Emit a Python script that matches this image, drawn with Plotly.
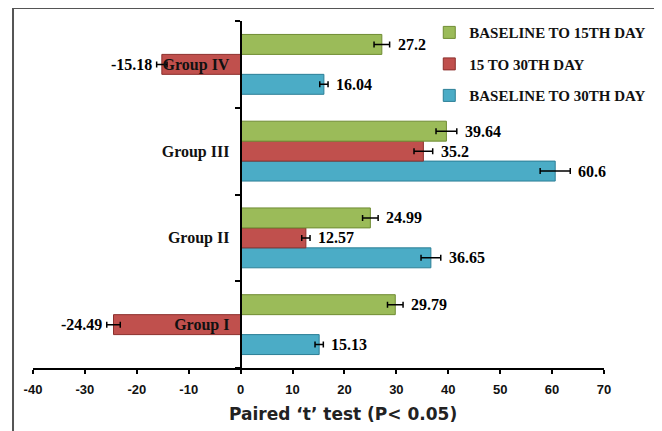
import plotly.graph_objects as go

groups = ["Group I", "Group II", "Group III", "Group IV"]
base15 = [29.79, 24.99, 39.64, 27.2]
base15_err = [1.5, 1.5, 2.0, 1.5]
d15_30 = [-24.49, 12.57, 35.2, -15.18]
d15_30_err = [1.3, 0.8, 1.8, 1.0]
base30 = [15.13, 36.65, 60.6, 16.04]
base30_err = [0.8, 1.9, 2.9, 0.8]
x_ticks = [-40, -30, -20, -10, 0, 10, 20, 30, 40, 50, 60, 70]
x_ticktext = [str(t) for t in x_ticks]

series = [
    ("BASELINE TO 30TH DAY", base30, base30_err, "#4bacc6", "#2c7f96", -20, 3),
    ("15 TO 30TH DAY", d15_30, d15_30_err, "#c0504d", "#8c2f2c", 0, 2),
    ("BASELINE TO 15TH DAY", base15, base15_err, "#9bbb59", "#6f8c33", 20, 1),
]

fig = go.Figure()
annotations = []
serif = "Liberation Serif"
for name, vals, errs, col, dark, ysh, rank in series:
    fig.add_trace(go.Bar(
        y=groups, x=vals, orientation="h", name=name,
        legendgroup=name, legendrank=rank,
        marker=dict(color=col, line=dict(color=dark, width=1)),
        error_x=dict(type="data", array=errs, color="black", thickness=1.5, width=3),
    ))
    for g, v, e in zip(groups, vals, errs):
        neg = v < 0
        annotations.append(dict(
            x=v - e if neg else v + e, y=g, xref="x", yref="y",
            text=f"{v:g}", showarrow=False,
            xanchor="right" if neg else "left", yshift=ysh,
            xshift=-3 if neg else 6,
            font=dict(family=serif, size=16, color="black", weight="bold"),
        ))

annotations.append(dict(
    x=0.543, y=-0.133, xref="paper", yref="paper", showarrow=False,
    xanchor="center", yanchor="middle",
    text="Paired \u2018t\u2019 test (P< 0.05)",
    font=dict(family="DejaVu Sans", size=17, color="#222", weight="bold"),
))

fig.update_layout(
    width=654, height=423,
    margin=dict(l=25, r=58, t=13, b=63, autoexpand=False),
    paper_bgcolor="white", plot_bgcolor="white",
    barmode="group", bargap=0.31, bargroupgap=0,
    showlegend=True,
    legend=dict(
        x=0.694, y=1.014, xanchor="left", yanchor="top",
        traceorder="grouped", tracegroupgap=9,
        font=dict(family=serif, size=15, color="#111", weight="bold"),
        bgcolor="rgba(0,0,0,0)",
        itemwidth=30,
    ),
    xaxis=dict(
        range=[-40, 70], tickvals=x_ticks, ticktext=x_ticktext,
        showgrid=False, zeroline=False,
        showline=True, linecolor="black", linewidth=2,
        ticks="outside", ticklen=4, tickwidth=2, tickcolor="black",
        ticklabelstandoff=4,
        tickfont=dict(family="Liberation Sans", size=13, color="#111", weight="bold"),
    ),
    yaxis=dict(
        categoryorder="array", categoryarray=groups,
        anchor="free", position=(0 - (-40)) / (70 - (-40)),
        showline=True, linecolor="black", linewidth=2,
        ticks="outside", tickson="boundaries", ticklen=5, tickwidth=2, tickcolor="black",
        ticklabelstandoff=7,
        showgrid=False, zeroline=False,
        tickfont=dict(family=serif, size=16, color="#111", weight="bold"),
        layer="above traces",
    ),
    annotations=annotations,
    shapes=[dict(
        type="rect", xref="paper", yref="paper",
        x0=-0.035, x1=1.091, y0=-0.25, y1=1.0375,
        line=dict(color="#555", width=2), fillcolor="rgba(0,0,0,0)",
    )],
)

fig.write_html("out.html")
